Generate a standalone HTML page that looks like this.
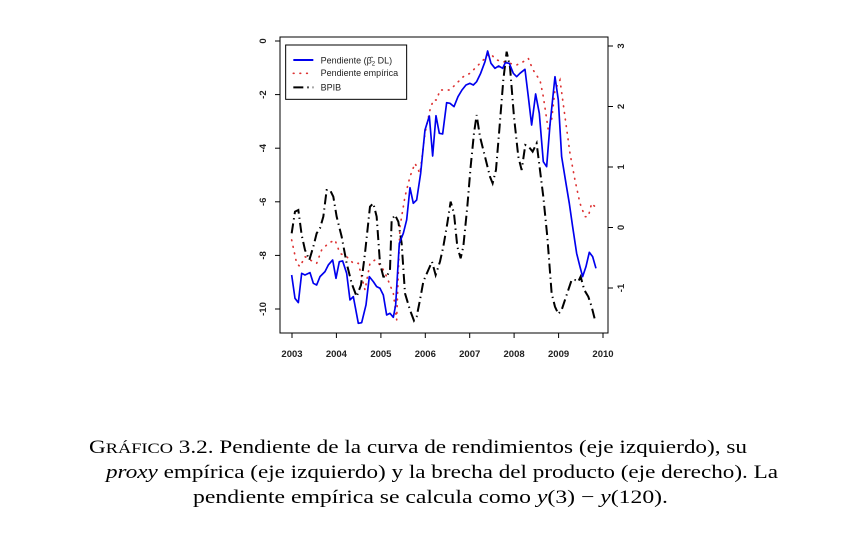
<!DOCTYPE html>
<html><head><meta charset="utf-8"><style>body{margin:0;background:#fff}svg{display:block}</style></head><body>
<svg width="862" height="549" viewBox="0 0 862 549" xmlns="http://www.w3.org/2000/svg">
<rect width="862" height="549" fill="#fff"/>
<g font-family="Liberation Sans, sans-serif" font-size="9.5" font-weight="bold" fill="#222">
<rect x="280" y="37" width="328" height="296" fill="none" stroke="#000" stroke-width="1"/>
<g stroke="#000">
<line x1="275" y1="41" x2="280" y2="41"/><line x1="275" y1="94.6" x2="280" y2="94.6"/><line x1="275" y1="148.2" x2="280" y2="148.2"/><line x1="275" y1="201.8" x2="280" y2="201.8"/><line x1="275" y1="255.4" x2="280" y2="255.4"/><line x1="275" y1="309" x2="280" y2="309"/>
<line x1="608" y1="46" x2="613" y2="46"/><line x1="608" y1="106.5" x2="613" y2="106.5"/><line x1="608" y1="167" x2="613" y2="167"/><line x1="608" y1="227.5" x2="613" y2="227.5"/><line x1="608" y1="288" x2="613" y2="288"/>
<line x1="292" y1="333" x2="292" y2="338"/><line x1="336.4" y1="333" x2="336.4" y2="338"/><line x1="380.9" y1="333" x2="380.9" y2="338"/><line x1="425.3" y1="333" x2="425.3" y2="338"/><line x1="469.7" y1="333" x2="469.7" y2="338"/><line x1="514.1" y1="333" x2="514.1" y2="338"/><line x1="558.6" y1="333" x2="558.6" y2="338"/><line x1="603" y1="333" x2="603" y2="338"/>
</g>
<g text-anchor="middle">
<text transform="translate(266,41) rotate(-90)">0</text>
<text transform="translate(266,94.6) rotate(-90)">-2</text>
<text transform="translate(266,148.2) rotate(-90)">-4</text>
<text transform="translate(266,201.8) rotate(-90)">-6</text>
<text transform="translate(266,255.4) rotate(-90)">-8</text>
<text transform="translate(266,309) rotate(-90)">-10</text>
<text transform="translate(624,46) rotate(-90)">3</text>
<text transform="translate(624,106.5) rotate(-90)">2</text>
<text transform="translate(624,167) rotate(-90)">1</text>
<text transform="translate(624,227.5) rotate(-90)">0</text>
<text transform="translate(624,288) rotate(-90)">-1</text>
<text x="292" y="357">2003</text><text x="336.4" y="357">2004</text><text x="380.9" y="357">2005</text><text x="425.3" y="357">2006</text><text x="469.7" y="357">2007</text><text x="514.1" y="357">2008</text><text x="558.6" y="357">2009</text><text x="603" y="357">2010</text>
</g>
<g transform="translate(250,30) scale(0.3333)" fill="none">
<polyline stroke="#d33" stroke-width="5" stroke-dasharray="2,18" stroke-linecap="round" points="125,630 140,700 150,710 165,680 180,690 200,700 215,660 235,640 255,630 270,670 290,680 310,700 325,700 345,780 360,700 375,690 395,710 410,740 430,790 440,870 450,590 465,500 480,440 495,400 510,430 525,310 540,240 550,210 560,210 570,180 580,180 600,180 620,160 640,140 660,130 680,110 700,90 720,70 740,90 760,95 780,100 800,105 820,95 835,85 845,110 855,130 870,150 880,200 895,300 905,270 915,180 930,150 945,260 960,370 975,450 990,520 1005,560 1015,560 1025,520 1035,530"/>
<polyline stroke="#000" stroke-width="6" stroke-dasharray="30,12,4,12" points="125,610 135,545 145,540 155,615 165,660 178,690 190,650 200,610 210,595 220,560 230,480 240,480 250,500 260,560 275,620 290,700 305,760 320,800 333,765 345,670 360,530 370,520 380,560 390,700 400,740 410,740 420,720 425,570 435,555 445,575 455,640 465,790 480,840 492,872 500,860 510,810 520,755 535,720 546,695 557,735 570,695 580,650 592,580 602,515 612,550 622,650 632,685 640,650 652,530 662,410 672,310 680,255 690,320 705,380 720,440 728,460 738,420 748,300 760,150 770,65 780,110 792,260 805,380 815,420 826,345 836,350 848,365 860,340 870,420 880,500 892,620 905,790 915,830 925,852 935,840 945,810 955,780 965,750 975,750 985,755 992,740 1003,780 1015,800 1025,830 1035,870"/>
<polyline stroke="#0000ee" stroke-width="5" stroke-linejoin="round" points="125,735 135,805 145,818 155,730 165,735 180,728 190,760 200,765 210,740 225,725 235,705 248,690 258,745 268,695 278,693 290,730 300,810 310,800 325,880 335,878 348,825 358,740 370,755 380,770 390,775 400,795 410,855 420,850 430,862 437,825 448,640 460,610 470,570 480,473 490,520 500,510 512,430 525,300 538,258 548,378 558,257 568,310 578,312 590,218 600,220 612,230 624,200 636,180 648,165 660,160 670,165 680,155 692,130 705,95 713,63 723,100 735,115 746,108 758,115 766,98 778,100 790,130 800,140 810,130 825,118 835,200 845,285 857,192 868,250 880,395 890,410 900,285 915,140 925,210 935,380 948,460 958,520 968,590 980,670 990,710 998,740 1008,710 1018,667 1028,680 1038,715"/>
<rect x="107" y="45" width="363" height="163" stroke="#000" stroke-width="3"/>
<line x1="130" y1="90" x2="190" y2="90" stroke="#0000ee" stroke-width="6"/>
<line x1="130" y1="130" x2="190" y2="130" stroke="#d33" stroke-width="5" stroke-dasharray="2,18" stroke-linecap="round"/>
<line x1="130" y1="172" x2="190" y2="172" stroke="#000" stroke-width="6" stroke-dasharray="30,12,4,12"/>
<g fill="#222" font-size="27" font-weight="normal" stroke="none">
<text x="212" y="100">Pendiente (β̂<tspan font-size="18" dy="6">2</tspan><tspan dy="-6"> DL)</tspan></text>
<text x="212" y="138">Pendiente empírica</text>
<text x="212" y="181">BPIB</text>
</g>
</g>
</g>
<g font-family="Liberation Serif, serif" font-size="19" fill="#000">
<text x="89" y="453" textLength="658" lengthAdjust="spacingAndGlyphs">G<tspan font-size="15">RÁFICO</tspan> 3.2.  Pendiente de la curva de rendimientos (eje izquierdo), su</text>
<text x="106" y="478" textLength="672" lengthAdjust="spacingAndGlyphs"><tspan font-style="italic">proxy</tspan> empírica (eje izquierdo) y la brecha del producto (eje derecho). La</text>
<text x="193" y="503" textLength="475" lengthAdjust="spacingAndGlyphs">pendiente empírica se calcula como <tspan font-style="italic">y</tspan>(3) − <tspan font-style="italic">y</tspan>(120).</text>
</g>
</svg>
</body></html>
